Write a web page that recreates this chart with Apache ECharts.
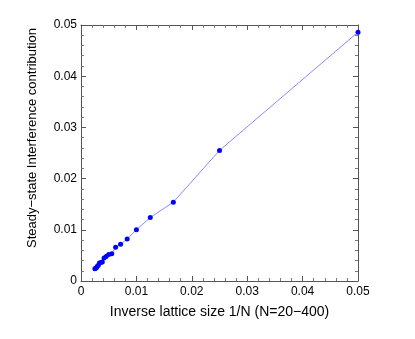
<!DOCTYPE html>
<html>
<head>
<meta charset="utf-8">
<script src="https://cdn.jsdelivr.net/npm/echarts@6/dist/echarts.min.js"></script>
<style>
html, body { margin: 0; padding: 0; background: #fff; }
#chart { width: 415px; height: 339px; }
</style>
</head>
<body>
<div id="chart"></div>
<script>
// lattice sizes and measured interference contribution
var latticeN = [20, 40, 60, 80, 100, 120, 140, 160, 180, 200, 220, 240, 260, 280, 300, 320, 340, 360, 380, 400];
var interference = [0.0486, 0.0255, 0.0154, 0.0124, 0.0100, 0.0082, 0.0072, 0.0066, 0.0053, 0.0052,
                    0.0048, 0.0045, 0.0037, 0.0036, 0.0035, 0.0031, 0.0029, 0.0026, 0.0025, 0.0024];

function boxAxis(pos, showLabels) {
    return {
        type: 'value',
        position: pos,
        min: 0,
        max: 0.05,
        interval: 0.01,
        splitNumber: 5,
        axisLine: { show: true, onZero: false, lineStyle: { color: '#555', width: 1 } },
        axisTick: { show: true, inside: true, length: 5, lineStyle: { color: '#555' } },
        minorTick: { show: true, splitNumber: 5, length: 3, lineStyle: { color: '#777' } },
        splitLine: { show: false },
        axisLabel: {
            show: showLabels,
            color: '#000',
            fontFamily: 'Liberation Sans',
            fontSize: 12,
            margin: 5
        }
    };
}

function makeChart(id) {
    var chart = echarts.init(document.getElementById(id));
    var data = [];
    for (var i = 0; i < latticeN.length; i++) {
        data.push([1 / latticeN[i], interference[i]]);
    }
    var xBottom = boxAxis('bottom', true);
    xBottom.name = 'Inverse lattice size 1/N (N=20\u2212400)';
    xBottom.nameLocation = 'middle';
    xBottom.nameGap = 24;
    xBottom.nameTextStyle = { color: '#000', fontFamily: 'Liberation Sans', fontSize: 14 };

    var yLeft = boxAxis('left', true);
    yLeft.name = 'Steady\u2212state Interference contribution';
    yLeft.nameLocation = 'middle';
    yLeft.nameGap = 42;
    yLeft.nameTextStyle = { color: '#000', fontFamily: 'Liberation Sans', fontSize: 13, padding: [0, 0, 0, 30] };
    yLeft.axisLabel.margin = 4;

    var option = {
        animation: false,
        grid: { left: 81, right: 57, top: 25, bottom: 58 },
        xAxis: [xBottom, boxAxis('top', false)],
        yAxis: [yLeft, boxAxis('right', false)],
        series: [
            {
                type: 'line',
                data: data,
                symbol: 'circle',
                symbolSize: 5,
                itemStyle: { color: '#0000ff' },
                lineStyle: { color: '#6b6bff', width: 0.8 }
            }
        ]
    };
    chart.setOption(option);
    window.onresize = chart.resize;
}

makeChart('chart');
</script>
</body>
</html>
